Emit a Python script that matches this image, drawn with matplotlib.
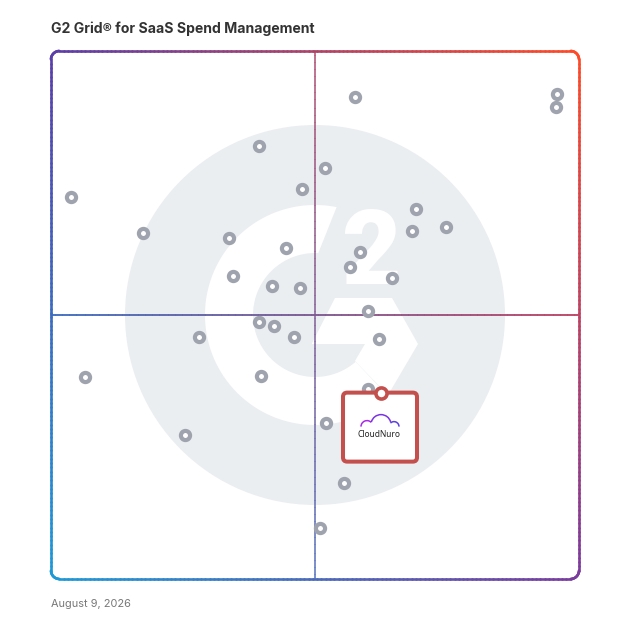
import numpy as np
import matplotlib
matplotlib.use('Agg')
import matplotlib.pyplot as plt
from matplotlib.collections import LineCollection
from matplotlib.patches import Circle, Polygon, FancyBboxPatch, Arc

### data: satisfaction (x) and market presence (y), 0-100 grid units
sat = [39.4, 51.8, 47.6, 69.1, 68.4, 74.8, 17.5, 33.8, 44.6, 58.5, 56.6,
       34.4, 64.5, 41.9, 47.2, 60.0, 39.4, 42.2, 28.0, 46.0, 62.1, 39.8,
       60.1, 52.1, 25.3, 55.5, 57.6, 95.8, 95.6, 3.8, 6.4, 50.9]
pres = [82.1, 77.9, 73.8, 70.0, 66.0, 66.7, 65.6, 64.6, 62.7, 62.0, 59.1,
        57.4, 57.0, 55.4, 55.2, 50.8, 48.7, 48.0, 45.9, 45.9, 45.5, 38.4,
        35.9, 29.6, 27.3, 18.2, 91.3, 91.9, 89.4, 72.3, 38.3, 9.7]
cn_sat, cn_pres = 62.5, 35.3
cn_label = 'CloudNuro'

title = 'G2 Grid® for SaaS Spend Management'
date_txt = 'August 9, 2026'

# corner colours of the gradient frame
c_tl = np.array([0x5A, 0x3E, 0xA9]) / 255
c_tr = np.array([0xFF, 0x4A, 0x26]) / 255
c_bl = np.array([0x1D, 0x9A, 0xD6]) / 255
c_br = np.array([0x7A, 0x3B, 0x9E]) / 255

PX = 100 / 528.0  # one pixel in grid units


def grad(x, y):
    u = np.clip(x / 100, 0, 1)[:, None]
    v = np.clip(y / 100, 0, 1)[:, None]
    top = c_tl * (1 - u) + c_tr * u
    bot = c_bl * (1 - u) + c_br * u
    return bot * (1 - v) + top * v


def grad_line(ax, xs, ys, lw, alpha=1.0, z=3):
    pts = np.column_stack([xs, ys])
    segs = np.stack([pts[:-1], pts[1:]], axis=1)
    mx = (pts[:-1, 0] + pts[1:, 0]) / 2
    my = (pts[:-1, 1] + pts[1:, 1]) / 2
    cols = np.column_stack([grad(mx, my), np.full(len(mx), alpha)])
    lc = LineCollection(segs, colors=cols, linewidths=lw, zorder=z,
                        capstyle='round', clip_on=False)
    ax.add_collection(lc)


def rrect_pts(x0, y0, x1, y1, r, n=120):
    xs, ys = [], []
    def seg(a, b, c, d):
        xs.extend(np.linspace(a, c, n)); ys.extend(np.linspace(b, d, n))
    def arc(cx, cy, t0, t1):
        t = np.radians(np.linspace(t0, t1, 20))
        xs.extend(cx + r * np.cos(t)); ys.extend(cy + r * np.sin(t))
    seg(x0 + r, y1, x1 - r, y1)
    arc(x1 - r, y1 - r, 90, 0)
    seg(x1, y1 - r, x1, y0 + r)
    arc(x1 - r, y0 + r, 0, -90)
    seg(x1 - r, y0, x0 + r, y0)
    arc(x0 + r, y0 + r, -90, -180)
    seg(x0, y0 + r, x0, y1 - r)
    arc(x0 + r, y1 - r, 180, 90)
    return np.array(xs), np.array(ys)


fig = plt.figure(figsize=(6.28, 6.28), dpi=100)
ax = fig.add_axes([51 / 628, 49 / 628, 528 / 628, 528 / 628])
ax.set_xlim(0, 100)
ax.set_ylim(0, 100)
ax.axis('off')

# G2 watermark
cx, cy = 50, 50
ax.add_patch(Circle((cx, cy), 190 * PX, color='#EBEEF1', lw=0, zorder=1))
r_out, r_in = 110 * PX, 62 * PX
to = np.radians(np.linspace(78.7, 312, 200))
ti = np.radians(np.linspace(311, 87, 200))
ring = np.vstack([np.column_stack([cx + r_out * np.cos(to), cy + r_out * np.sin(to)]),
                  np.column_stack([cx + r_in * np.cos(ti), cy + r_in * np.sin(ti)])])
ax.add_patch(Polygon(ring, closed=True, color='white', lw=0, zorder=1.5))
chev = np.array([(20, 17), (77, 17), (103, -29), (73, -80), (40, -46),
                 (50, -29), (-3.3, -29)]) * PX + [cx, cy]
ax.add_patch(Polygon(chev, closed=True, color='white', lw=0, zorder=1.5))
ax.text(cx + 57 * PX, cy + 31 * PX, '2', color='white', fontsize=74,
        fontweight=900, family='Roboto', ha='center', va='baseline', zorder=1.6)

# frame and quadrant lines
fx, fy = rrect_pts(0, 0, 100, 100, 1.6)
grad_line(ax, fx, fy, 1.9)
lx = np.linspace(0, 100, 300)
grad_line(ax, lx, np.full_like(lx, 50), 1.2, z=2.5)
grad_line(ax, np.full_like(lx, 50), lx, 1.2, alpha=0.7, z=2.5)

# products
ax.scatter(sat, pres, s=6.6 ** 2, facecolor='white', edgecolor='#9EA3AE',
           linewidths=3.0, zorder=4)

# highlighted product box
red = '#C4504E'
bw, bh = 74 * PX, 69 * PX
ax.add_patch(FancyBboxPatch((cn_sat - 38 * PX, cn_pres - bh), bw, bh,
                            boxstyle='round,pad=0,rounding_size=0.8',
                            facecolor='white', edgecolor=red, lw=2.9, zorder=5))
ax.scatter([cn_sat], [cn_pres], s=8 ** 2, facecolor='white', edgecolor=red,
           linewidths=2.6, zorder=6)
# cloud logo
ax.add_patch(Arc((cn_sat - 14 * PX, cn_pres - 34 * PX), 12 * PX, 12 * PX,
                 theta1=45, theta2=180, color='#A82AE6', lw=1.1, zorder=6))
ax.add_patch(Arc((cn_sat, cn_pres - 32 * PX), 20 * PX, 20 * PX,
                 theta1=15, theta2=165, color='#7A35E2', lw=1.1, zorder=6))
ax.add_patch(Arc((cn_sat + 13 * PX, cn_pres - 34 * PX), 10 * PX, 10 * PX,
                 theta1=0, theta2=135, color='#5A40E0', lw=1.1, zorder=6))
ax.text(cn_sat - 2 * PX, cn_pres - 42 * PX, cn_label, fontsize=6.0,
        family='Noto Sans', color='#222222', ha='center', va='center', zorder=6)

fig.text(51 / 628, 1 - 29 / 628, title, fontsize=10.1, fontweight='bold',
         family='Inter', color='#333333', ha='left', va='center')
fig.text(51 / 628, 1 - 604 / 628, date_txt, fontsize=7.9,
         family='Inter', color='#777777', ha='left', va='center')

fig.savefig('out.png', dpi=100)
